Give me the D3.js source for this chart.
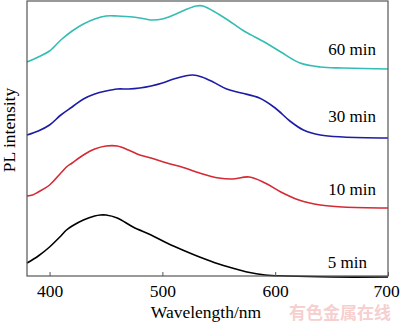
<!DOCTYPE html>
<html><head><meta charset="utf-8">
<script src="https://cdn.jsdelivr.net/npm/d3@7"></script>
<style>body{margin:0;background:#fff}svg{display:block}</style>
</head><body><svg id="c" width="400" height="324"></svg>
<script>
const xTicks = [400, 500, 600, 700];
const seriesNames = ["5 min", "10 min", "30 min", "60 min"];
const seriesColors = ["#000000", "#d42a33", "#1c1ca6", "#33bdb3"];
const wl5 = [380,390,400,410,415,420,430,440,445,450,460,474,490,504,520,533,550,562,575,591,610,650,700];
const pl5 = [13,20,29,40,46,50,56,60,61,61,58,49,41,33,25,19,12,8,4,1,0,-1,-1];
const wl10 = [380,385,390,400,410,415,420,430,440,450,460,470,480,490,504,520,533,550,562,577,591,605,621,640,660,700];
const pl10 = [80,81,84,91,103,109,113,121,127,130,130,126,121,118,113,108,103,98,97,99,93,84,76,71,69,68];
const wl30 = [380,390,400,410,420,430,440,450,460,470,480,490,500,510,520,527,535,545,557,570,586,600,613,625,640,660,700];
const pl30 = [141,145,151,161,169,177,182,185,187,187,188,190,193,197,200,201,199,194,187,183,178,168,155,146,141,139,138];
const wl60 = [380,390,400,410,420,430,440,450,460,474,485,491,500,510,520,530,536,545,558,571,582,592,605,622,640,660,700];
const pl60 = [214,219,225,236,245,252,257,260,260,259,257,256,257,261,266,270,270,265,256,246,239,233,224,213,209,208,207];
const wlAll = [wl5, wl10, wl30, wl60];
const plAll = [pl5, pl10, pl30, pl60];

const svg = d3.select("#c");
const m = {l:27, r:388, t:1, b:276};
const x = d3.scaleLinear().domain([380,700]).range([m.l, m.r]);
const y = d3.scaleLinear().domain([0,276]).range([m.b, m.t-1]);
const serif = "'Liberation Serif','Times New Roman',serif";

const line = d3.line().x(d=>x(d[0])).y(d=>y(d[1])).curve(d3.curveCatmullRom.alpha(0.5));
seriesNames.forEach((n,i)=>{
  const pts = wlAll[i].map((w,j)=>[w, plAll[i][j]]);
  svg.append("path").attr("d", line(pts)).attr("fill","none")
    .attr("stroke", seriesColors[i]).attr("stroke-width",1.6);
});

svg.append("rect").attr("x",m.l).attr("y",m.t).attr("width",m.r-m.l).attr("height",m.b-m.t)
  .attr("fill","none").attr("stroke","#555").attr("stroke-width",1.2);

const ax = svg.append("g").attr("transform",`translate(0,${m.b})`)
  .call(d3.axisBottom(x).tickValues(xTicks).tickSizeInner(-4).tickSizeOuter(0).tickPadding(9));
ax.select(".domain").remove();
ax.selectAll("line").attr("stroke","#555");
ax.selectAll("text").attr("font-family",serif).attr("font-size",17.5).attr("fill","#000")
  .attr("dx", d => d === 700 ? -2 : 0);

svg.append("text").attr("x",206).attr("y",318).attr("text-anchor","middle")
  .attr("font-family",serif).attr("font-size",17.5).text("Wavelength/nm");
svg.append("text").attr("transform","translate(15,130) rotate(-90)").attr("text-anchor","middle")
  .attr("font-family",serif).attr("font-size",17.5).text("PL intensity");

const labelY = [268, 195, 122, 55];
const labelX = [367, 376, 376, 376];
seriesNames.forEach((n,i)=>{
  svg.append("text").attr("x",labelX[i]).attr("y",labelY[i]).attr("text-anchor","end")
    .attr("font-family",serif).attr("font-size",17).text(n);
});

svg.append("text").attr("x",391).attr("y",319).attr("text-anchor","end")
  .attr("font-family","'Noto Sans CJK SC'").attr("font-size",17).attr("font-weight","bold")
  .attr("fill","#f6cfcf").text("有色金属在线");
</script></body></html>
